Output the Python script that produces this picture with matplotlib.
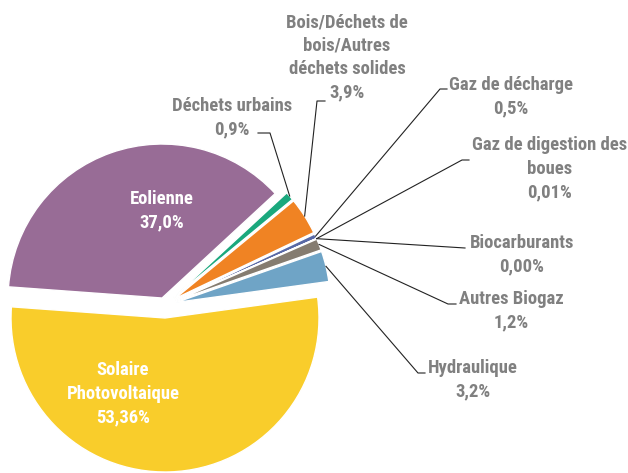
from matplotlib import pyplot as plt
from matplotlib import font_manager
import numpy as np

# data (clockwise order, starting with Solaire)
sources = ["Solaire\nPhotovoltaique", "Eolienne", "Déchets urbains",
           "Bois/Déchets de\nbois/Autres\ndéchets solides", "Gaz de décharge",
           "Gaz de digestion des\nboues", "Biocarburants", "Autres Biogaz",
           "Hydraulique"]
shares = [53.36, 37.0, 0.9, 3.9, 0.5, 0.01, 0.0, 1.2, 3.2]
share_labels = ["53,36%", "37,0%", "0,9%", "3,9%", "0,5%", "0,01%", "0,00%",
                "1,2%", "3,2%"]
colors = ["#F9CD2B", "#986C96", "#1AA87D", "#F08323", "#5868A5",
          "#6F7FB0", "#A0A0A0", "#857C70", "#6FA4C6"]

# look for a narrow bold font file; fall back to Roboto bold, a bit smaller
files = set(font_manager.findSystemFonts()) | {f.fname for f in font_manager.fontManager.ttflist}
wanted = ["RobotoCondensed-Bold", "OpenSansCondensed-Bold", "OpenSans_Condensed-Bold",
          "LiberationSansNarrow-Bold.", "DejaVuSansCondensed-Bold."]
chosen = None
for key in wanted:
    hits = sorted(f for f in files if key in f.replace(" ", ""))
    if hits:
        chosen = hits[0]
        break

if chosen:
    fs = 13.4
    fp = font_manager.FontProperties(fname=chosen, size=fs)
else:
    fs = 11
    fp = font_manager.FontProperties(family="Roboto", weight="bold", size=fs)

fig = plt.figure(figsize=(6.28, 4.73), dpi=100)
ax = fig.add_axes([0, 0, 1, 1])

# pixel-like coordinates, y downwards; explode is in the same units
radius = 154
explode = [12.8, 7.6, 12, 12, 12, 12, 12, 12, 12]

# y is flipped, so counterclock in data = clockwise on screen
wedges, _ = ax.pie(shares, colors=colors, explode=explode, startangle=-7.8,
                   counterclock=True, center=(164.6, 305.2), radius=radius,
                   wedgeprops=dict(edgecolor="white", linewidth=1.0),
                   frame=True)
ax.set_xlim(0, 628)
ax.set_ylim(473, 0)
ax.set_aspect("equal")
ax.axis("off")

gray = "#808080"

# labels inside the two big slices
ax.text(123, 394, "Solaire\nPhotovoltaique\n53,36%", ha="center", va="center",
        color="white", fontproperties=fp, linespacing=1.4)
ax.text(162, 211, "Eolienne\n37,0%", ha="center", va="center",
        color="white", fontproperties=fp, linespacing=1.4)

# outside labels: (index, text position, elbow, end of leader)
outside = [
    (2, (232, 117.5), (270, 133), (258, 133)),
    (3, (347, 57.5), (317, 101), (325, 101)),
    (4, (511, 96.5), (440, 89), (447, 89)),
    (5, (550, 169), (462, 160), (469, 160)),
    (6, (522, 255), (465, 248), (465, 248)),
    (7, (511, 310.5), (448, 304), (456, 304)),
    (8, (473, 379.5), (418, 373), (425, 373)),
]

for i, pos, elbow, end in outside:
    w = wedges[i]
    mid = np.deg2rad((w.theta1 + w.theta2) / 2)
    pt = (w.center[0] + w.r * np.cos(mid), w.center[1] + w.r * np.sin(mid))
    ax.plot([pt[0], elbow[0], end[0]], [pt[1], elbow[1], end[1]],
            color="#222222", lw=0.8)
    ax.text(pos[0], pos[1], sources[i] + "\n" + share_labels[i],
            ha="center", va="center", color=gray, fontproperties=fp,
            linespacing=1.4)

fig.savefig("out.png", dpi=100)
